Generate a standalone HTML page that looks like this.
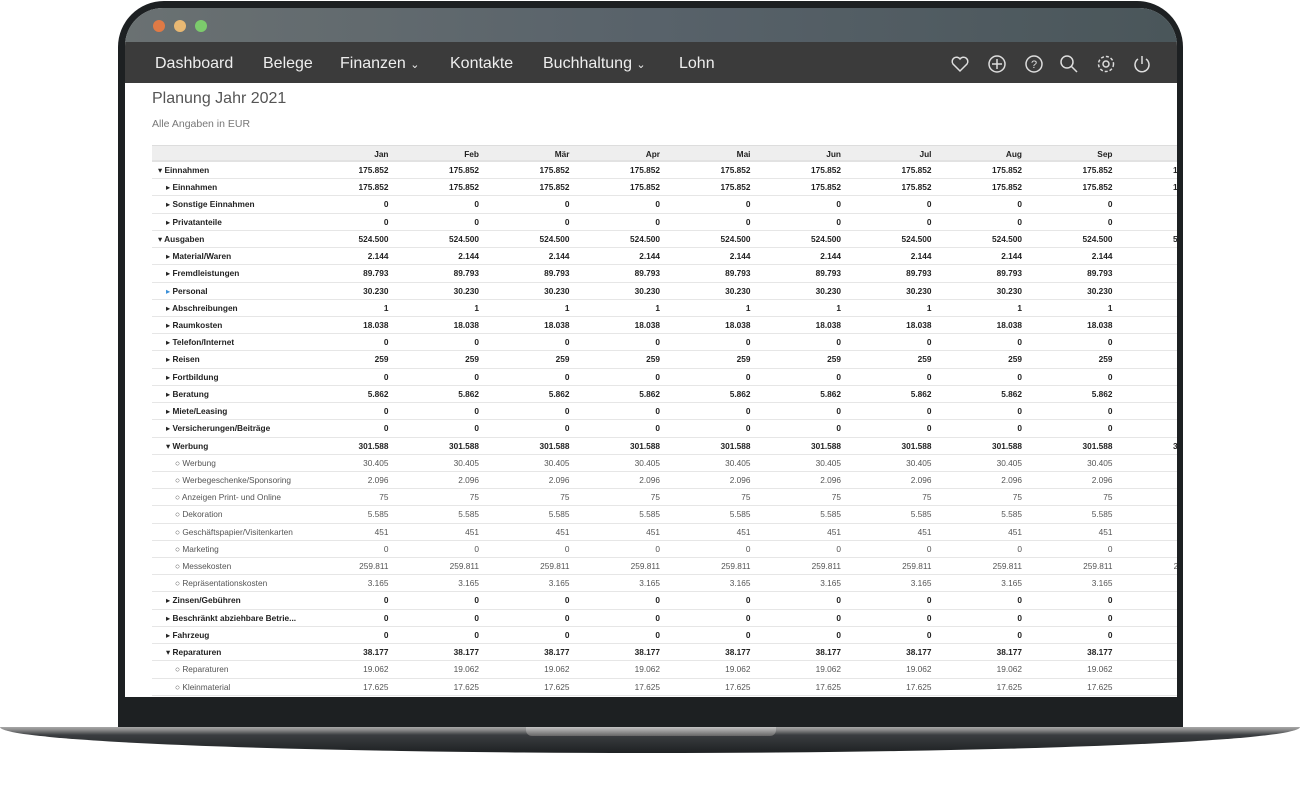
<!DOCTYPE html>
<html><head><meta charset="utf-8"><style>
*{box-sizing:border-box;margin:0;padding:0}
body{width:1300px;height:792px;background:#fff;position:relative;overflow:hidden;font-family:"Liberation Sans","DejaVu Sans",sans-serif}
.frame{position:absolute;left:118px;top:1px;width:1065px;height:740px;background:#1d2022;border-radius:46px 46px 0 0}
.screen{position:absolute;left:125px;top:8px;width:1052px;height:689px;background:#fff;border-radius:38px 38px 0 0;overflow:hidden}
.tbar{position:absolute;left:0;top:0;width:100%;height:34px;background:linear-gradient(90deg,#6a7172,#58626a 50%,#4a565a)}
.dot{position:absolute;top:12px;width:12px;height:12px;border-radius:50%}
.nav{position:absolute;left:0;top:34px;width:100%;height:41px;background:#3b3b3b;color:#eee;font-size:16px}
.nav span{position:absolute;top:13px}
.nav small{font-size:11px}
.ic{position:absolute;top:12px;width:20px;height:20px}
.content{position:absolute;left:0;top:75px;width:100%;height:614px;background:#fff}
.h1{position:absolute;left:27px;top:7px;font-size:16px;color:#555}
.h2{position:absolute;left:27px;top:35px;font-size:10.5px;color:#777}
.tbl{position:absolute;left:27px;top:62px;width:1100px}
.r{display:flex;height:17.23px;line-height:17px;font-size:8.3px;border-bottom:1px solid #e6e6e6;color:#222;font-weight:bold;white-space:nowrap}
.r div{width:90.5px;text-align:right;flex:none}
.r div.l{width:146px;text-align:left;padding-left:6px}
.hd{background:#eeeeee;border-top:1px solid #ddd;height:17px;border-bottom:2px solid #e2e2e2}
.s{font-weight:normal;color:#555}
.a1 div.l{padding-left:14px}
.s div.l{padding-left:23px}
.base{position:absolute;left:0;top:727px;width:1300px;height:26px;background:linear-gradient(#a8a8a8 0,#8a8a8a 3px,#3a3d40 8px,#1e2123 100%);border-radius:0 0 50% 50%/0 0 100% 100%}
.lip{position:absolute;left:526px;top:727px;width:250px;height:9px;background:linear-gradient(#c4c4c4,#666);border-radius:0 0 6px 6px}
</style></head><body>
<div class="frame"></div>
<div class="base"></div>
<div class="lip"></div>
<div class="screen">
 <div class="tbar">
  <div class="dot" style="left:28px;background:#e07a45"></div>
  <div class="dot" style="left:49px;background:#e8b873"></div>
  <div class="dot" style="left:70px;background:#7ccb6c"></div>
 </div>
 <div class="nav">
  <span style="left:30px">Dashboard</span><span style="left:138px">Belege</span><span style="left:215px">Finanzen <small>⌄</small></span><span style="left:325px">Kontakte</span><span style="left:418px">Buchhaltung <small>⌄</small></span><span style="left:554px">Lohn</span>
  <svg class="ic" style="left:825px" viewBox="0 0 20 20" fill="none" stroke="#ddd" stroke-width="1.5"><path d="M10 17 L3 10 A4 4 0 0 1 10 5 A4 4 0 0 1 17 10 Z"/></svg>
  <svg class="ic" style="left:862px" viewBox="0 0 20 20" fill="none" stroke="#ddd" stroke-width="1.5"><circle cx="10" cy="10" r="8"/><path d="M10 5v10M5 10h10"/></svg>
  <svg class="ic" style="left:899px" viewBox="0 0 20 20" fill="none" stroke="#ddd" stroke-width="1.5"><circle cx="10" cy="10" r="8"/><text x="10" y="14" font-size="11" text-anchor="middle" fill="#ddd" stroke="none" font-family="Liberation Sans">?</text></svg>
  <svg class="ic" style="left:934px" viewBox="0 0 20 20" fill="none" stroke="#ddd" stroke-width="1.5"><circle cx="8" cy="8" r="6"/><path d="M12.5 12.5L18 18"/></svg>
  <svg class="ic" style="left:971px" viewBox="0 0 20 20" fill="none" stroke="#ddd" stroke-width="1.5"><circle cx="10" cy="10" r="3"/><circle cx="10" cy="10" r="7.5" stroke-dasharray="3 2"/></svg>
  <svg class="ic" style="left:1007px" viewBox="0 0 20 20" fill="none" stroke="#ddd" stroke-width="1.5"><path d="M6 5A7 7 0 1 0 14 5M10 2v8"/></svg>
 </div>
 <div class="content">
  <div class="h1">Planung Jahr 2021</div>
  <div class="h2">Alle Angaben in EUR</div>
  <div class="tbl">
<div class="r hd"><div class="l"></div><div>Jan</div><div>Feb</div><div>Mär</div><div>Apr</div><div>Mai</div><div>Jun</div><div>Jul</div><div>Aug</div><div>Sep</div><div>Okt</div></div>
<div class="r"><div class="l">▾ Einnahmen</div><div>175.852</div><div>175.852</div><div>175.852</div><div>175.852</div><div>175.852</div><div>175.852</div><div>175.852</div><div>175.852</div><div>175.852</div><div>175.852</div></div>
<div class="r a1"><div class="l">▸ Einnahmen</div><div>175.852</div><div>175.852</div><div>175.852</div><div>175.852</div><div>175.852</div><div>175.852</div><div>175.852</div><div>175.852</div><div>175.852</div><div>175.852</div></div>
<div class="r a1"><div class="l">▸ Sonstige Einnahmen</div><div>0</div><div>0</div><div>0</div><div>0</div><div>0</div><div>0</div><div>0</div><div>0</div><div>0</div><div>0</div></div>
<div class="r a1"><div class="l">▸ Privatanteile</div><div>0</div><div>0</div><div>0</div><div>0</div><div>0</div><div>0</div><div>0</div><div>0</div><div>0</div><div>0</div></div>
<div class="r"><div class="l">▾ Ausgaben</div><div>524.500</div><div>524.500</div><div>524.500</div><div>524.500</div><div>524.500</div><div>524.500</div><div>524.500</div><div>524.500</div><div>524.500</div><div>524.500</div></div>
<div class="r a1"><div class="l">▸ Material/Waren</div><div>2.144</div><div>2.144</div><div>2.144</div><div>2.144</div><div>2.144</div><div>2.144</div><div>2.144</div><div>2.144</div><div>2.144</div><div>2.144</div></div>
<div class="r a1"><div class="l">▸ Fremdleistungen</div><div>89.793</div><div>89.793</div><div>89.793</div><div>89.793</div><div>89.793</div><div>89.793</div><div>89.793</div><div>89.793</div><div>89.793</div><div>89.793</div></div>
<div class="r a1"><div class="l"><span style="color:#3a8fd8">▸</span> Personal</div><div>30.230</div><div>30.230</div><div>30.230</div><div>30.230</div><div>30.230</div><div>30.230</div><div>30.230</div><div>30.230</div><div>30.230</div><div>30.230</div></div>
<div class="r a1"><div class="l">▸ Abschreibungen</div><div>1</div><div>1</div><div>1</div><div>1</div><div>1</div><div>1</div><div>1</div><div>1</div><div>1</div><div>1</div></div>
<div class="r a1"><div class="l">▸ Raumkosten</div><div>18.038</div><div>18.038</div><div>18.038</div><div>18.038</div><div>18.038</div><div>18.038</div><div>18.038</div><div>18.038</div><div>18.038</div><div>18.038</div></div>
<div class="r a1"><div class="l">▸ Telefon/Internet</div><div>0</div><div>0</div><div>0</div><div>0</div><div>0</div><div>0</div><div>0</div><div>0</div><div>0</div><div>0</div></div>
<div class="r a1"><div class="l">▸ Reisen</div><div>259</div><div>259</div><div>259</div><div>259</div><div>259</div><div>259</div><div>259</div><div>259</div><div>259</div><div>259</div></div>
<div class="r a1"><div class="l">▸ Fortbildung</div><div>0</div><div>0</div><div>0</div><div>0</div><div>0</div><div>0</div><div>0</div><div>0</div><div>0</div><div>0</div></div>
<div class="r a1"><div class="l">▸ Beratung</div><div>5.862</div><div>5.862</div><div>5.862</div><div>5.862</div><div>5.862</div><div>5.862</div><div>5.862</div><div>5.862</div><div>5.862</div><div>5.862</div></div>
<div class="r a1"><div class="l">▸ Miete/Leasing</div><div>0</div><div>0</div><div>0</div><div>0</div><div>0</div><div>0</div><div>0</div><div>0</div><div>0</div><div>0</div></div>
<div class="r a1"><div class="l">▸ Versicherungen/Beiträge</div><div>0</div><div>0</div><div>0</div><div>0</div><div>0</div><div>0</div><div>0</div><div>0</div><div>0</div><div>0</div></div>
<div class="r a1"><div class="l">▾ Werbung</div><div>301.588</div><div>301.588</div><div>301.588</div><div>301.588</div><div>301.588</div><div>301.588</div><div>301.588</div><div>301.588</div><div>301.588</div><div>301.588</div></div>
<div class="r s"><div class="l">○ Werbung</div><div>30.405</div><div>30.405</div><div>30.405</div><div>30.405</div><div>30.405</div><div>30.405</div><div>30.405</div><div>30.405</div><div>30.405</div><div>30.405</div></div>
<div class="r s"><div class="l">○ Werbegeschenke/Sponsoring</div><div>2.096</div><div>2.096</div><div>2.096</div><div>2.096</div><div>2.096</div><div>2.096</div><div>2.096</div><div>2.096</div><div>2.096</div><div>2.096</div></div>
<div class="r s"><div class="l">○ Anzeigen Print- und Online</div><div>75</div><div>75</div><div>75</div><div>75</div><div>75</div><div>75</div><div>75</div><div>75</div><div>75</div><div>75</div></div>
<div class="r s"><div class="l">○ Dekoration</div><div>5.585</div><div>5.585</div><div>5.585</div><div>5.585</div><div>5.585</div><div>5.585</div><div>5.585</div><div>5.585</div><div>5.585</div><div>5.585</div></div>
<div class="r s"><div class="l">○ Geschäftspapier/Visitenkarten</div><div>451</div><div>451</div><div>451</div><div>451</div><div>451</div><div>451</div><div>451</div><div>451</div><div>451</div><div>451</div></div>
<div class="r s"><div class="l">○ Marketing</div><div>0</div><div>0</div><div>0</div><div>0</div><div>0</div><div>0</div><div>0</div><div>0</div><div>0</div><div>0</div></div>
<div class="r s"><div class="l">○ Messekosten</div><div>259.811</div><div>259.811</div><div>259.811</div><div>259.811</div><div>259.811</div><div>259.811</div><div>259.811</div><div>259.811</div><div>259.811</div><div>259.811</div></div>
<div class="r s"><div class="l">○ Repräsentationskosten</div><div>3.165</div><div>3.165</div><div>3.165</div><div>3.165</div><div>3.165</div><div>3.165</div><div>3.165</div><div>3.165</div><div>3.165</div><div>3.165</div></div>
<div class="r a1"><div class="l">▸ Zinsen/Gebühren</div><div>0</div><div>0</div><div>0</div><div>0</div><div>0</div><div>0</div><div>0</div><div>0</div><div>0</div><div>0</div></div>
<div class="r a1"><div class="l">▸ Beschränkt abziehbare Betrie...</div><div>0</div><div>0</div><div>0</div><div>0</div><div>0</div><div>0</div><div>0</div><div>0</div><div>0</div><div>0</div></div>
<div class="r a1"><div class="l">▸ Fahrzeug</div><div>0</div><div>0</div><div>0</div><div>0</div><div>0</div><div>0</div><div>0</div><div>0</div><div>0</div><div>0</div></div>
<div class="r a1"><div class="l">▾ Reparaturen</div><div>38.177</div><div>38.177</div><div>38.177</div><div>38.177</div><div>38.177</div><div>38.177</div><div>38.177</div><div>38.177</div><div>38.177</div><div>38.177</div></div>
<div class="r s"><div class="l">○ Reparaturen</div><div>19.062</div><div>19.062</div><div>19.062</div><div>19.062</div><div>19.062</div><div>19.062</div><div>19.062</div><div>19.062</div><div>19.062</div><div>19.062</div></div>
<div class="r s"><div class="l">○ Kleinmaterial</div><div>17.625</div><div>17.625</div><div>17.625</div><div>17.625</div><div>17.625</div><div>17.625</div><div>17.625</div><div>17.625</div><div>17.625</div><div>17.625</div></div>
  </div>
 </div>
</div>
</body></html>
